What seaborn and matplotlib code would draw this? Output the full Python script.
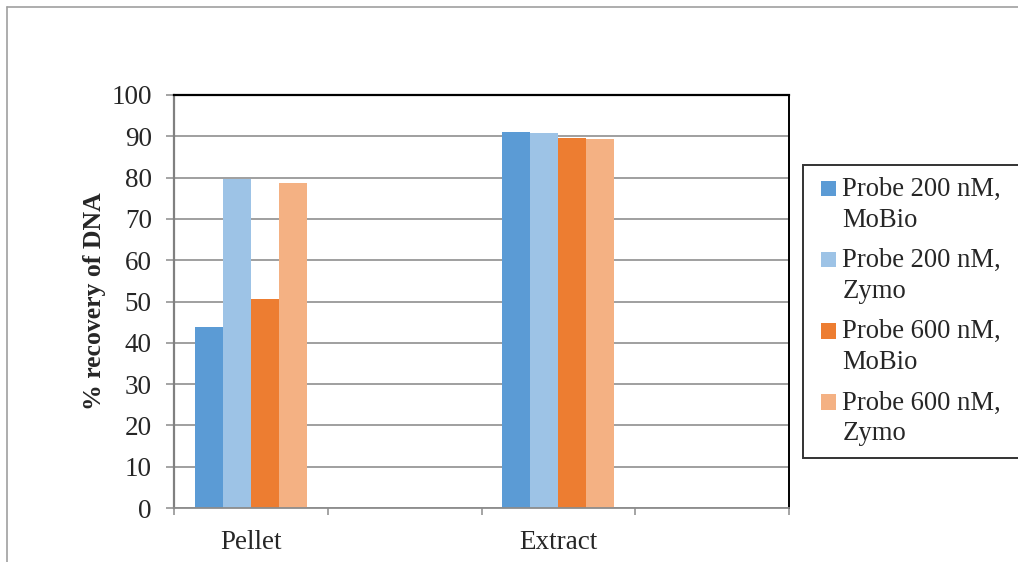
import pandas as pd
import seaborn as sns
import matplotlib.pyplot as plt
import matplotlib.patches as mpatches
from matplotlib.lines import Line2D
from matplotlib.legend_handler import HandlerPatch

# data
slots = ['Pellet', 'gap1', 'Extract', 'gap2']     # Excel left two empty category slots
samples = ['Pellet', 'Extract']
series = ['Probe 200 nM, MoBio', 'Probe 200 nM, Zymo',
          'Probe 600 nM, MoBio', 'Probe 600 nM, Zymo']
legend_labels = ['Probe 200 nM,\nMoBio', 'Probe 200 nM,\nZymo',
                 'Probe 600 nM,\nMoBio', 'Probe 600 nM,\nZymo']
pellet = [43.9, 79.6, 50.6, 78.6]
extract = [91.1, 90.7, 89.7, 89.3]
colors = ['#5B9BD5', '#9DC3E6', '#ED7D31', '#F4B183']

df = pd.DataFrame({
    'sample': ['Pellet'] * 4 + ['Extract'] * 4,
    'series': series + series,
    'recovery': pellet + extract,
})

sns.set_theme(style='white')
plt.rcParams['font.family'] = ['Liberation Serif', 'DejaVu Serif']
FS = 19.5

fig = plt.figure(figsize=(10.18, 5.62), dpi=100)
ax = fig.add_axes([174 / 1018, 54 / 562, 615 / 1018, 413 / 562])

sns.barplot(data=df, x='sample', y='recovery', hue='series',
            order=slots, hue_order=series, palette=colors,
            width=0.727, saturation=1, linewidth=0, ax=ax, legend=False)

ax.set_xlim(-0.5, 3.5)
ax.set_ylim(0, 100)
ax.set_yticks(range(0, 101, 10))
ax.set_xticks([-0.5, 0.5, 1.5, 2.5, 3.5])
ax.set_xticklabels([])
ax.set_xticks([0, 2], minor=True)
ax.set_xticklabels(samples, minor=True, fontsize=FS)
ax.tick_params(axis='x', which='major', length=5, width=1.1, color='#8c8c8c',
               direction='out', bottom=True)
ax.tick_params(axis='x', which='minor', length=0, pad=16)
ax.tick_params(axis='y', length=6, width=1.1, color='#8c8c8c',
               direction='out', left=True, pad=10, labelsize=FS)
ax.set_xlabel('')
ax.set_ylabel('% recovery of DNA', fontsize=18.5, fontweight='bold', labelpad=4)

ax.set_axisbelow(True)
ax.yaxis.grid(True, color='#8f8f8f', linewidth=1.2)
ax.spines['top'].set_color('black')
ax.spines['top'].set_linewidth(1.6)
ax.spines['right'].set_color('black')
ax.spines['right'].set_linewidth(1.4)
ax.spines['left'].set_color('#808080')
ax.spines['left'].set_linewidth(1.6)
ax.spines['bottom'].set_color('#8c8c8c')
ax.spines['bottom'].set_linewidth(1.3)


# small square, pushed to the right of the handle box and up to the first label line
def first_line_square(legend, orig_handle, xdescent, ydescent, width, height, fontsize):
    return mpatches.Rectangle((-xdescent + width - height, -ydescent + 0.62 * fontsize),
                              height, height)


handles = [mpatches.Patch(facecolor=c, edgecolor='none') for c in colors]
leg = fig.legend(handles, legend_labels, loc='upper left', mode='expand',
                 bbox_to_anchor=(803 / 1018, 1 - 165 / 562, 1 - 803 / 1018 + 0.004, 0),
                 borderaxespad=0,
                 fontsize=19.2, frameon=True, fancybox=False, edgecolor='black',
                 handlelength=0.8, handleheight=0.53, handletextpad=0.22,
                 labelspacing=0.58, borderpad=0.45,
                 handler_map={mpatches.Patch: HandlerPatch(patch_func=first_line_square)})
leg.get_frame().set_linewidth(1.4)
for t in leg.get_texts():
    t.set_linespacing(1.3)

# outer chart-area border (top and left edges visible)
fig.add_artist(Line2D([7 / 1018, 1.0], [1 - 7 / 562, 1 - 7 / 562],
                      transform=fig.transFigure, color='#a0a0a0', linewidth=1.2))
fig.add_artist(Line2D([7 / 1018, 7 / 1018], [0, 1 - 7 / 562],
                      transform=fig.transFigure, color='#a0a0a0', linewidth=1.2))

fig.savefig('out.png', dpi=100, facecolor='white')
